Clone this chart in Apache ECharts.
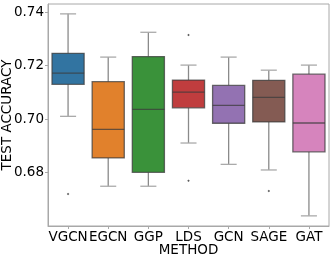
<!DOCTYPE html>
<html><head><meta charset="utf-8">
<script src="https://cdn.jsdelivr.net/npm/echarts@6/dist/echarts.min.js"></script>
<style>html,body{margin:0;padding:0;background:#fff}#c{width:332px;height:258px}</style>
</head><body><div id="c"></div>
<script>
const categories = ['VGCN','EGCN','GGP','LDS','GCN','SAGE','GAT'];
// [min whisker, Q1, median, Q3, max whisker]
const boxStats = [
  [0.7010, 0.7130, 0.7172, 0.7246, 0.7394],
  [0.6748, 0.6854, 0.6961, 0.7140, 0.7232],
  [0.6748, 0.6800, 0.7036, 0.7234, 0.7325],
  [0.6910, 0.7042, 0.7101, 0.7146, 0.7202],
  [0.6830, 0.6984, 0.7051, 0.7126, 0.7232],
  [0.6809, 0.6989, 0.7081, 0.7145, 0.7183],
  [0.6637, 0.6877, 0.6985, 0.7168, 0.7202]
];
// outliers: [categoryIndex, value]
const outliers = [
  [0, 0.6719],
  [3, 0.7315],
  [3, 0.6769],
  [5, 0.6730]
];
const colors = ['#3274a1','#e1812c','#3a923a','#c03d3e','#9372b2','#845b53','#d684bd'];
const yTicks = [0.68, 0.70, 0.72, 0.74];

const chart = echarts.init(document.getElementById('c'), null, {renderer:'canvas'});
const font = 'DejaVu Sans';
const fs = 13.5;
const boxData = boxStats.map((s,i)=>[i].concat(s));

chart.setOption({
  animation:false,
  grid:{left:48,right:3,top:4,bottom:32,containLabel:false,outerBoundsMode:'none'},
  xAxis:{
    type:'category', data:categories,
    name:'METHOD', nameLocation:'middle', nameGap:17, nameMoveOverlap:false,
    nameTextStyle:{fontFamily:font,fontSize:fs,color:'#000'},
    axisLine:{show:true,lineStyle:{color:'#a8a8a8',width:1}},
    axisTick:{show:true,alignWithLabel:true,length:3,lineStyle:{color:'#a8a8a8'}},
    axisLabel:{fontFamily:font,fontSize:fs,color:'#000',margin:4,interval:0},
    splitLine:{show:false}
  },
  yAxis:{
    type:'value', min:0.6599, max:0.7431,
    name:'TEST ACCURACY', nameLocation:'middle', nameGap:34, nameRotate:90, nameMoveOverlap:false,
    nameTextStyle:{fontFamily:font,fontSize:fs,color:'#000'},
    axisLine:{show:true,lineStyle:{color:'#a8a8a8',width:1}},
    axisTick:{show:true,length:3,customValues:yTicks,lineStyle:{color:'#a8a8a8'}},
    axisLabel:{fontFamily:font,fontSize:fs,color:'#000',margin:4,customValues:yTicks,
      formatter:v=>v.toFixed(2)},
    splitLine:{show:false}
  },
  graphic:[{type:'rect',shape:{x:48,y:4,width:281,height:222},
    style:{fill:'none',stroke:'#a8a8a8',lineWidth:1},silent:true,z:0}],
  series:[
    {
      type:'custom',
      data:boxData,
      encode:{x:0,y:[1,2,3,4,5]},
      renderItem:function(params, api){
        const i = api.value(0);
        const x = api.coord([i, 0.7])[0];
        const bw = api.size([1,0])[0]*0.8;
        const hw = bw/2;
        const yMin = api.coord([i, api.value(1)])[1];
        const yQ1 = api.coord([i, api.value(2)])[1];
        const yMed = api.coord([i, api.value(3)])[1];
        const yQ3 = api.coord([i, api.value(4)])[1];
        const yMax = api.coord([i, api.value(5)])[1];
        const wcol = '#8a8a8a';
        const ecol = 'rgba(60,60,60,0.75)';
        const lw = 1.3;
        return {type:'group', children:[
          {type:'line',shape:{x1:x,y1:yQ1,x2:x,y2:yMin},style:{stroke:wcol,lineWidth:lw}},
          {type:'line',shape:{x1:x,y1:yQ3,x2:x,y2:yMax},style:{stroke:wcol,lineWidth:lw}},
          {type:'line',shape:{x1:x-hw/2,y1:yMin,x2:x+hw/2,y2:yMin},style:{stroke:'#aaaaaa',lineWidth:lw}},
          {type:'line',shape:{x1:x-hw/2,y1:yMax,x2:x+hw/2,y2:yMax},style:{stroke:'#aaaaaa',lineWidth:lw}},
          {type:'rect',shape:{x:x-hw,y:yQ3,width:bw,height:yQ1-yQ3},
            style:{fill:colors[i],stroke:ecol,lineWidth:lw}},
          {type:'line',shape:{x1:x-hw,y1:yMed,x2:x+hw,y2:yMed},style:{stroke:ecol,lineWidth:lw}}
        ]};
      },
      z:2
    },
    {
      type:'scatter',
      data:outliers,
      symbol:'diamond',
      symbolSize:2.5,
      itemStyle:{color:'#333'},
      z:3
    }
  ]
});
</script></body></html>
